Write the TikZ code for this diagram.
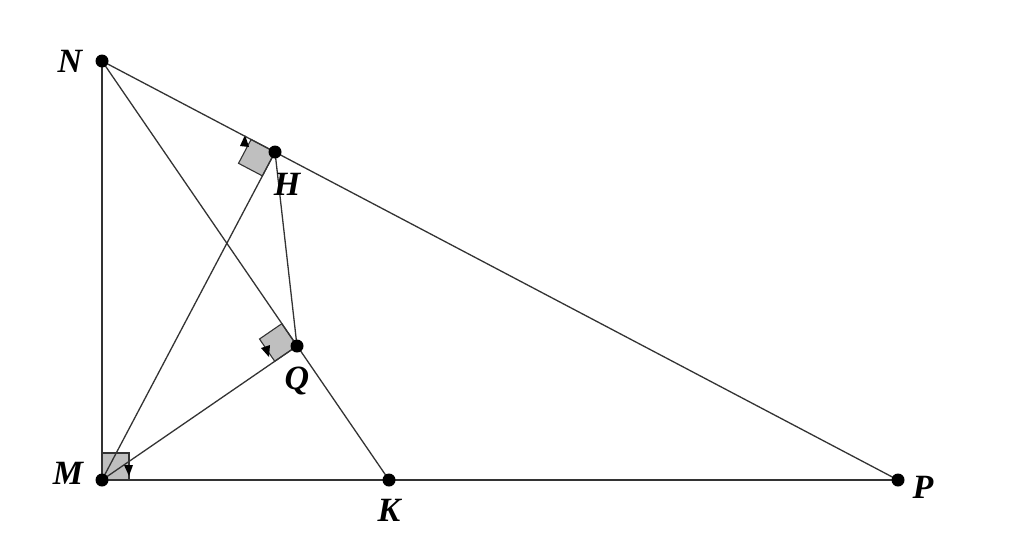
\documentclass[tikz,border=0pt]{standalone}
\usepackage{fontspec}
\setmainfont{Liberation Serif}
\usetikzlibrary{calc}
\begin{document}
\begin{tikzpicture}[x=1pt,y=-1pt,
  seg/.style={draw=black!80,line width=1.3pt},
  dot/.style={circle,fill=black,inner sep=0pt,minimum size=13pt},
  lbl/.style={font=\fontsize{34}{34}\selectfont\bfseries\itshape},
  rmark/.style={fill=black!25,draw=black!80,line width=1.1pt},
  tick/.style={fill=black}]
\useasboundingbox (0,0) rectangle (1024,555);
\coordinate (N) at (102,61);
\coordinate (H) at (275,152);
\coordinate (Q) at (297,346);
\coordinate (M) at (102,480);
\coordinate (K) at (389,480);
\coordinate (P) at (898,480);
% right angle marks
\path[rmark] (H) -- ($(H)!27pt!(N)$) -- ($($(H)!27pt!(N)$)+($(H)!27pt!(M)$)-(H)$) -- ($(H)!27pt!(M)$) -- cycle;
\path[rmark] (Q) -- ($(Q)!27pt!(N)$) -- ($($(Q)!27pt!(N)$)+($(Q)!27pt!(M)$)-(Q)$) -- ($(Q)!27pt!(M)$) -- cycle;
\path[rmark] (M) -- ($(M)!27pt!(N)$) -- ($($(M)!27pt!(N)$)+($(M)!27pt!(P)$)-(M)$) -- ($(M)!27pt!(P)$) -- cycle;
% small ticks
\fill[tick] (240,146) -- (245,135) -- (249,147) -- cycle;
\fill[tick] (261,348) -- (270,345) -- (269,357) -- cycle;
\fill[tick] (124,465) -- (133,465) -- (129,476) -- cycle;
% segments
\draw[seg] (M) -- (N);
\draw[seg] (N) -- (P);
\draw[seg] (M) -- (P);
\draw[seg] (N) -- (K);
\draw[seg] (M) -- (H);
\draw[seg] (M) -- (Q);
\draw[seg] (H) -- (Q);
% points
\foreach \p in {N,H,Q,M,K,P} \node[dot] (d\p) at (\p) {};
\node[lbl] (lN) at (70,61) {N};
\node[lbl] (lH) at (287,184) {H};
\node[lbl] (lQ) at (297,381) {Q};
\node[lbl] (lM) at (68,473) {M};
\node[lbl] (lK) at (389,510) {K};
\node[lbl] (lP) at (923,487) {P};
\end{tikzpicture}
\end{document}
